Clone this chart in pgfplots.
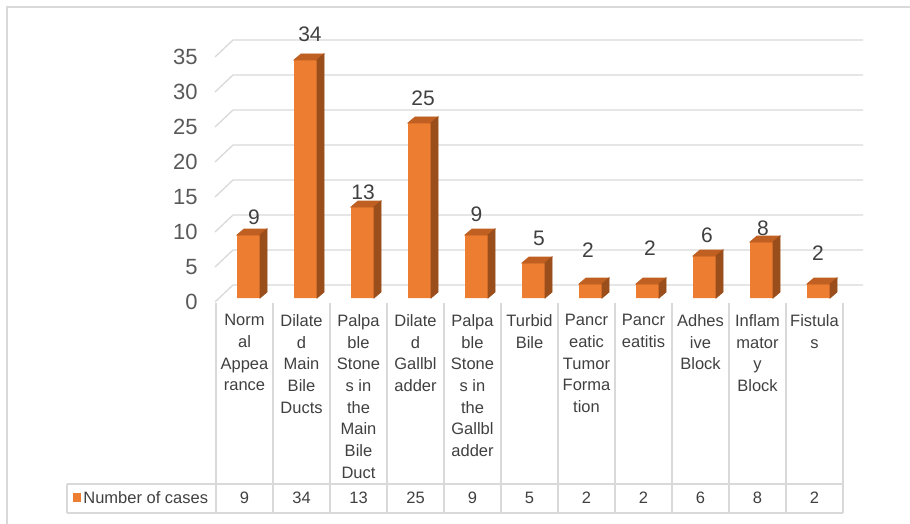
\documentclass[border=0pt]{standalone}
\usepackage{pgfplots}
\usepackage{pgfplotstable}
\pgfplotsset{compat=1.18}
\usepackage{fontspec}
\setmainfont{Liberation Sans}

\definecolor{barfront}{HTML}{ED7D31}
\definecolor{bartop}{HTML}{BF5F21}
\definecolor{barside}{HTML}{9A4E1B}
\definecolor{gridc}{HTML}{D9D9D9}
\definecolor{ticktext}{HTML}{595959}
\definecolor{tabtext}{HTML}{404040}

% one drawing unit
\newdimen\pu \pu=0.5pt
\newdimen\barh

% empty plot mark: the bar faces are drawn in the scatter hook
\pgfdeclareplotmark{nomark}{}

% x: category index, y: number of cases, lx/ly: label nudges
\pgfplotstableread{
x y  lx  ly
0 9  9.5 17.5
1 34 8.5 25.5
2 13 4.5 15
3 25 7.5 24.5
4 9  4   20.5
5 5  9.5 24.5
6 2  1.5 34
7 2  6.5 36
8 6  6.5 21
9 8  5.5 14
10 2 3.5 31
}\casedata

\begin{document}
\begin{tikzpicture}
\useasboundingbox (0,0) rectangle (910\pu,-524\pu);
% chart frame
\draw[gridc, line width=1.3\pu] (7\pu,-540\pu) -- (7\pu,-7\pu) -- (925\pu,-7\pu);

\begin{axis}[
  at={(216\pu,-298\pu)}, anchor=south west,
  x=57\pu, y=7\pu,
  xmin=-0.5, xmax=10.5, ymin=0, ymax=35,
  clip=false,
  axis line style={draw=none},
  major tick length=0pt,
  /pgf/number format/assume math mode=true,
  ytick={0,5,...,35},
  yticklabel style={anchor=east, inner sep=0pt, xshift=-18\pu, yshift=-4\pu,
    font=\fontsize{11}{13}\selectfont, text=ticktext},
  xtick={0,...,10},
  xticklabels={
    {Norm\\al\\Appea\\rance},
    {Dilate\\d\\Main\\Bile\\Ducts},
    {Palpa\\ble\\Stone\\s in\\the\\Main\\Bile\\Duct},
    {Dilate\\d\\Gallbl\\adder},
    {Palpa\\ble\\Stone\\s in\\the\\Gallbl\\adder},
    {Turbid\\Bile},
    {Pancr\\eatic\\Tumor\\Forma\\tion},
    {Pancr\\eatitis},
    {Adhes\\ive\\Block},
    {Inflam\\mator\\y\\Block},
    {Fistula\\s}},
  xticklabel style={anchor=north, align=center, inner sep=0pt, yshift=-16\pu,
    font=\fontsize{8.25}{10.85}\selectfont, text=tabtext},
]
% gridlines: short slanted floor edge on the left, then along the back wall
\pgfplotsinvokeforeach{0,5,...,35}{
  \draw[gridc, line width=1.3\pu]
    ([xshift=-1\pu,yshift=-4\pu]axis cs:-0.5,#1)
    -- ([xshift=17\pu,yshift=13\pu]axis cs:-0.5,#1)
    -- ([xshift=20\pu,yshift=13\pu]axis cs:10.5,#1);
}
% front faces of the columns
\addplot[ybar, bar width=23\pu, bar shift=4\pu, fill=barfront, draw=none]
  table[x=x, y=y] {\casedata};
% top and side faces of the columns
\addplot[
  scatter, only marks, mark=nomark,
  visualization depends on={y \as \barval},
  scatter/@pre marker code/.code={%
    \barh=\barval\pu \multiply\barh by 7
    \fill[bartop] (-7.5\pu,0pt) -- (15.5\pu,0pt) -- (22.5\pu,6\pu) -- (-0.5\pu,6\pu) -- cycle;
    \fill[barside] (15.5\pu,0pt) -- (22.5\pu,6\pu) -- (22.5\pu,{6\pu-\barh}) -- (15.5\pu,-\barh) -- cycle;
  },
  scatter/@post marker code/.code={},
] table[x=x, y=y] {\casedata};
% value labels
\addplot[
  only marks, mark=nomark,
  visualization depends on={\thisrow{lx} \as \labx},
  visualization depends on={\thisrow{ly} \as \laby},
  nodes near coords,
  every node near coord/.append style={anchor=center, inner sep=0pt,
    xshift={\labx*\pu}, yshift={\laby*\pu},
    font=\fontsize{10.5}{12}\selectfont, text=tabtext},
] table[x=x, y=y] {\casedata};
\end{axis}

% data table below the plot
\foreach \k in {0,...,11}
  \draw[gridc, line width=1.2\pu] ({(216+57*\k)*\pu},-303\pu) -- ({(216+57*\k)*\pu},-513\pu);
\draw[gridc, line width=1.2\pu] (67\pu,-484\pu) -- (843\pu,-484\pu);
\draw[gridc, line width=1.2\pu] (67\pu,-513\pu) -- (843\pu,-513\pu);
\draw[gridc, line width=1.2\pu] (67\pu,-484\pu) -- (67\pu,-513\pu);
\fill[barfront] (73\pu,-493\pu) rectangle (81\pu,-502\pu);
\node[anchor=west, inner sep=0pt, font=\fontsize{8.25}{10}\selectfont, text=tabtext]
  at (83\pu,-498\pu) {Number of cases};
\pgfplotstableforeachcolumnelement{y}\of\casedata\as\cell{%
  \node[inner sep=0pt, font=\fontsize{8.25}{10}\selectfont, text=tabtext]
    at ({(244.5+57*\pgfplotstablerow)*\pu},-498\pu) {\cell};
}
\end{tikzpicture}
\end{document}
